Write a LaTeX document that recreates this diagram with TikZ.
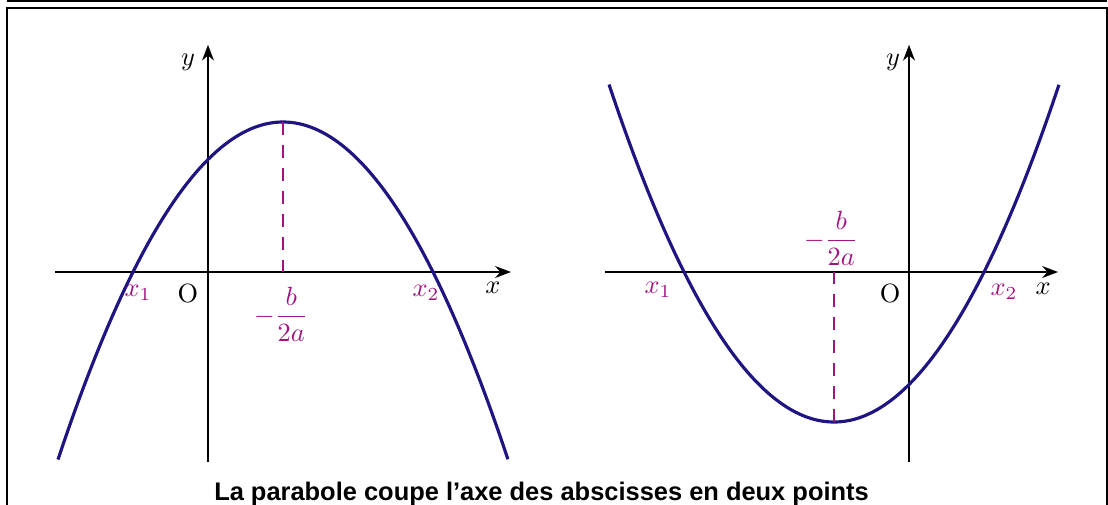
\documentclass[tikz,border=0pt]{standalone}
\usepackage{amsmath}
\usepackage{fontspec}
\newfontfamily\titrefont{Liberation Sans}
\usepackage{tikz}
\usetikzlibrary{arrows.meta, positioning}
\definecolor{bleunuit}{RGB}{30,20,130}
\definecolor{prune}{RGB}{160,20,130}

\begin{document}
\begin{tikzpicture}[
	axe/.style={line width=0.8pt, -{Stealth[length=6pt,width=4.5pt]}},
	courbe/.style={line width=1.2pt, bleunuit},
	pointille/.style={prune, line width=0.6pt, dash pattern=on 5pt off 3.7pt},
	etiq/.style={prune}
	]
		\useasboundingbox (-2.7733,-3.0933) rectangle (12,3.6267);
		% cadres
		\draw[line width=0.8pt] (-2.68,3.613) -- (11.987,3.613);
		\draw[line width=0.8pt] (-2.68,-3.5) rectangle (11.987,3.52);
		% parabole tournee vers le bas
		\draw[axe] (-2.04,0) -- (4.04,0);
		\draw[axe] (0,-2.53) -- (0,3.03);
		\draw[courbe, domain=-2:4, smooth, samples=100, variable=\x] 
		plot ({\x}, {-(\x+1)*(\x-3)/2});
		\draw[pointille] (1,2) -- (1,0);
		\node (yG) at (-0.267,2.8) {$y$};
		\node (xG) at (3.8,-0.213) {$x$};
		\node (oG) at (-0.267,-0.28) {$\mathrm{O}$};
		\node[etiq] (x1G) at (-0.933,-0.28) {$x_1$};
		\node[etiq] (x2G) at (2.907,-0.28) {$x_2$};
		\node[etiq] (sG) at (0.973,-0.56) {$-\dfrac{b}{2a}$};
		% parabole tournee vers le haut
		\begin{scope}[shift={(9.347,0)}]
		\draw[axe] (-4.053,0) -- (1.987,0);
		\draw[axe] (0,-2.53) -- (0,3.03);
		\draw[courbe, domain=-4:2, smooth, samples=100, variable=\x] 
		plot ({\x}, {(\x+3)*(\x-1)/2});
		\draw[pointille] (-1,-2) -- (-1,0);
		\node (yD) at (-0.213,2.8) {$y$};
		\node (xD) at (1.787,-0.227) {$x$};
		\node (oD) at (-0.253,-0.28) {$\mathrm{O}$};
		\node[etiq] (x1D) at (-3.347,-0.24) {$x_1$};
		\node[etiq] (x2D) at (1.267,-0.267) {$x_2$};
		\node[etiq] (sD) at (-1.04,0.453) {$-\dfrac{b}{2a}$};
		\end{scope}
		\node[font=\titrefont\bfseries\fontsize{9.65}{11}\selectfont, anchor=base] (titre) at (4.447,-3.04) 
		{La parabole coupe l’axe des abscisses en deux points};
	\end{tikzpicture}
\end{document}
